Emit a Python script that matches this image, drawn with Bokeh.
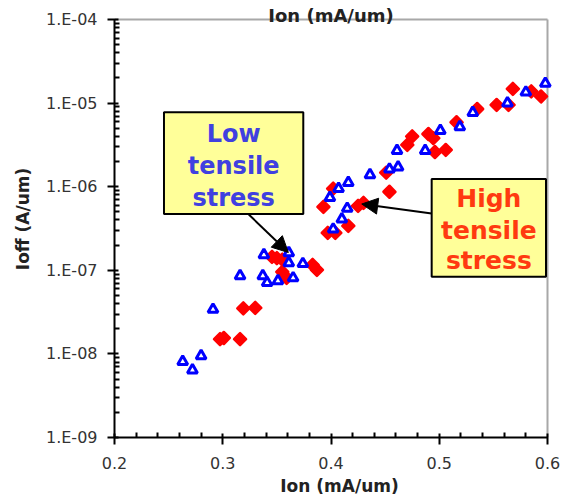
from bokeh.plotting import figure
from bokeh.models import (Range1d, FixedTicker, CustomJSTickFormatter, BoxAnnotation,
                          Label, Arrow, NormalHead)
from bokeh.embed import file_html
from bokeh.resources import INLINE

# ---- data ----
low_x = [0.263, 0.272, 0.280, 0.291, 0.316, 0.337, 0.341, 0.351, 0.365, 0.338,
         0.361, 0.361, 0.374, 0.402, 0.410, 0.415, 0.399, 0.407, 0.416, 0.436,
         0.454, 0.462, 0.461, 0.487, 0.501, 0.519, 0.531, 0.563, 0.580, 0.598]
low_y = [8.1e-9, 6.4e-9, 9.5e-9, 3.4e-8, 8.6e-8, 8.6e-8, 7.1e-8, 7.5e-8, 8.1e-8, 1.53e-7,
         1.62e-7, 1.23e-7, 1.2e-7, 3.1e-7, 4.1e-7, 5.5e-7, 7.4e-7, 9.5e-7, 1.12e-6, 1.39e-6,
         1.62e-6, 1.72e-6, 2.7e-6, 2.7e-6, 4.7e-6, 5.2e-6, 7.7e-6, 1.0e-5, 1.35e-5, 1.72e-5]

high_x = [0.2975, 0.301, 0.316, 0.319, 0.330, 0.3455, 0.350, 0.355, 0.355, 0.359,
          0.383, 0.387, 0.393, 0.397, 0.404, 0.402, 0.416, 0.425, 0.430, 0.451,
          0.454, 0.4705, 0.475, 0.490, 0.4945, 0.496, 0.506, 0.516, 0.535, 0.553,
          0.564, 0.568, 0.585, 0.594]
high_y = [1.5e-8, 1.55e-8, 1.5e-8, 3.5e-8, 3.55e-8, 1.45e-7, 1.4e-7, 1.34e-7, 9.6e-8, 8.1e-8,
          1.16e-7, 1.01e-7, 5.75e-7, 2.8e-7, 2.8e-7, 9.5e-7, 3.4e-7, 5.9e-7, 6.4e-7, 1.47e-6,
          8.7e-7, 3.16e-6, 4.0e-6, 4.27e-6, 3.8e-6, 2.6e-6, 2.75e-6, 5.9e-6, 8.5e-6, 9.5e-6,
          9.5e-6, 1.48e-5, 1.38e-5, 1.2e-5]

x_ticks = [0.2, 0.3, 0.4, 0.5, 0.6]
x_minor = [0.22, 0.24, 0.26, 0.28, 0.32, 0.34, 0.36, 0.38, 0.42, 0.44, 0.46, 0.48,
           0.52, 0.54, 0.56, 0.58]
y_decades = [-9, -8, -7, -6, -5, -4]
y_ticks = [10.0 ** e for e in y_decades]
y_minor = [k * 10.0 ** e for e in y_decades[:-1] for k in range(2, 10)]

X_MIN, X_MAX = 0.2, 0.6
Y_MIN, Y_MAX = 1e-9, 1e-4

FONT = "DejaVu Sans"

# frame runs to the top/right canvas edges so that the top title can show;
# the visible box is still 0.2..0.6 x 1e-9..1e-4 (drawn with axis bounds + grey lines)
p = figure(width=564, height=500, y_axis_type="log",
           x_range=Range1d(X_MIN, X_MIN + 450 / 1082.5),
           y_range=Range1d(Y_MIN, 10 ** (-9 + 437 / 83.6)),
           output_backend="svg", toolbar_location=None, min_border=0,
           min_border_left=114, min_border_right=0, min_border_top=0, min_border_bottom=63)

p.xgrid.visible = False
p.ygrid.visible = False
p.outline_line_color = None
p.background_fill_color = "white"
p.border_fill_color = "white"

# grey top and right border of the plot box
p.segment(x0=[X_MIN, X_MAX], y0=[Y_MAX, Y_MIN], x1=[X_MAX, X_MAX], y1=[Y_MAX, Y_MAX],
          line_color="#a8a8a8", line_width=2)

# axes
xa = p.xaxis[0]
xa.ticker = FixedTicker(ticks=x_ticks, minor_ticks=x_minor)
xa.formatter = CustomJSTickFormatter(code="return tick.toFixed(1);")
xa.bounds = (X_MIN, X_MAX)
ya = p.yaxis[0]
ya.ticker = FixedTicker(ticks=y_ticks, minor_ticks=y_minor)
ya.formatter = CustomJSTickFormatter(code="""
const e = Math.round(Math.log10(tick)); const a = Math.abs(e);
return '1.E' + (e < 0 ? '-' : '+') + (a < 10 ? '0' : '') + a;""")
ya.bounds = (Y_MIN, Y_MAX)

for ax in (xa, ya):
    ax.axis_line_color = "black"
    ax.axis_line_width = 2
    ax.major_tick_line_color = "black"
    ax.major_tick_line_width = 2
    ax.minor_tick_line_color = "black"
    ax.minor_tick_line_width = 2
    ax.major_tick_out = 7
    ax.major_tick_in = 4
    ax.minor_tick_out = 0
    ax.minor_tick_in = 5
    ax.major_label_text_font = FONT
    ax.major_label_text_font_size = "16px"
    ax.major_label_text_color = "#333333"
    ax.axis_label_text_font = FONT
    ax.axis_label_text_font_style = "bold"
    ax.axis_label_text_font_size = "17px"
    ax.axis_label_text_color = "#222222"

xa.axis_label = "Ion (mA/um)"
xa.major_label_standoff = 12
xa.axis_label_standoff = 4
ya.axis_label = "Ioff (A/um)"
ya.major_label_standoff = 10
ya.axis_label_standoff = 10

# data
p.scatter(high_x, high_y, marker="square", angle=0.785, size=8.5, fill_color="#ff0000",
          line_color="#ff0000", line_width=2.5, line_join="round")
p.scatter(low_x, low_y, marker="triangle", size=10, fill_color="white",
          line_color="#0000ff", line_width=3)

# annotations
low_box = BoxAnnotation(left=0.2457, right=0.3744, top=7.76e-6, bottom=4.71e-7,
                        fill_color="#ffff99", fill_alpha=1, line_color="black",
                        line_width=2, line_alpha=1)
high_box = BoxAnnotation(left=0.4930, right=0.5986, top=1.236e-6, bottom=8.36e-8,
                         fill_color="#ffff99", fill_alpha=1, line_color="black",
                         line_width=2, line_alpha=1)
p.add_layout(low_box)
p.add_layout(high_box)

for txt, yy in zip(["Low", "tensile", "stress"], [10 ** -5.365, 10 ** -5.748, 10 ** -6.132]):
    p.add_layout(Label(x=0.3101, y=yy, text=txt, text_align="center", text_baseline="middle",
                       text_font=FONT, text_font_style="bold", text_font_size="24px",
                       text_color="#4040e0"))
for txt, yy in zip(["High", "tensile", "stress"], [10 ** -6.144, 10 ** -6.527, 10 ** -6.886]):
    p.add_layout(Label(x=0.5458, y=yy, text=txt, text_align="center", text_baseline="middle",
                       text_font=FONT, text_font_style="bold", text_font_size="25px",
                       text_color="#ff3a10"))

p.add_layout(Arrow(end=NormalHead(size=16, fill_color="black", line_color="black"),
                   x_start=0.3236, y_start=10 ** -6.327, x_end=0.3606, y_end=10 ** -6.787,
                   line_color="black", line_width=2))
p.add_layout(Arrow(end=NormalHead(size=16, fill_color="black", line_color="black"),
                   x_start=0.4930, y_start=10 ** -6.320, x_end=0.4284, y_end=10 ** -6.207,
                   line_color="black", line_width=2))

# title at the very top edge
p.add_layout(Label(x=0.4, y=10 ** -3.95, text="Ion (mA/um)", text_align="center",
                   text_baseline="alphabetic", text_font=FONT, text_font_style="bold",
                   text_font_size="18px", text_color="#222222"))

open("out.html", "w").write(file_html(p, INLINE))
